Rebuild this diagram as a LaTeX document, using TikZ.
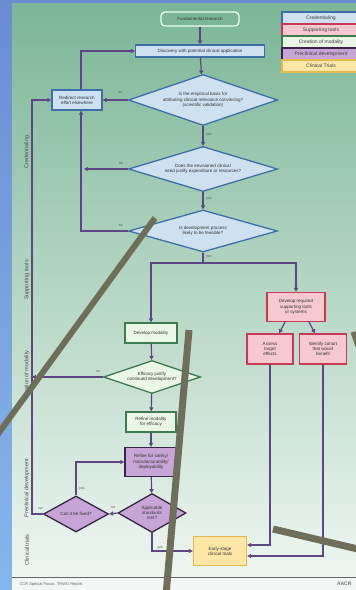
\documentclass[tikz,border=0pt]{standalone}
\usepackage{fontspec}
\setmainfont{Liberation Sans}
\usetikzlibrary{arrows.meta,shapes.geometric}

\definecolor{sidetop}{HTML}{6A8DD2}
\definecolor{sidebot}{HTML}{86B6EE}
\definecolor{bgtop}{HTML}{7CB697}
\definecolor{bgmid}{HTML}{A5D0BB}
\definecolor{bgbot}{HTML}{EEF6F1}
\definecolor{footfill}{HTML}{F3F6F5}
\definecolor{credfill}{HTML}{CFE0F1}
\definecolor{credline}{HTML}{3D6FA8}
\definecolor{toolfill}{HTML}{F6C8CF}
\definecolor{toolline}{HTML}{C63A58}
\definecolor{modfill}{HTML}{EAF6E6}
\definecolor{modline}{HTML}{3E7A52}
\definecolor{prefill}{HTML}{C7A5D6}
\definecolor{preline}{HTML}{3A2448}
\definecolor{trialfill}{HTML}{FDE6A6}
\definecolor{trialline}{HTML}{E6B850}
\definecolor{flowline}{HTML}{5E4684}
\definecolor{stickgray}{HTML}{6E6E5A}

\tikzset{
  box/.style={draw, line width=1.3pt, align=center, inner sep=1pt,
    font=\fontsize{4.5}{5.2}\selectfont, text=black!80},
  decision/.style={box, diamond, inner sep=0pt},
  credbox/.style={fill=credfill, draw=credline},
  toolbox/.style={fill=toolfill, draw=toolline},
  modbox/.style={fill=modfill, draw=modline},
  prebox/.style={fill=prefill, draw=preline},
  trialbox/.style={fill=trialfill, draw=trialline},
  keyrow/.style={draw, line width=1.3pt, minimum width=78, minimum height=12,
    inner sep=0pt, font=\fontsize{5}{6}\selectfont, text=black!75},
  lane/.style={rotate=90, font=\fontsize{5.5}{6}\selectfont, text=black!70},
  flow/.style={draw=flowline, line width=1.2pt, -{Triangle[length=4pt,width=4pt]}},
  link/.style={draw=flowline, line width=1.2pt},
  tag/.style={font=\fontsize{3.5}{4}\selectfont, text=black!70, inner sep=0.5pt},
  stick/.style={draw=stickgray, line cap=butt}
}

\begin{document}
\begin{tikzpicture}[x=1pt,y=-1pt]
\useasboundingbox (0,0) rectangle (356,590);
\shade[top color=sidetop, bottom color=sidebot] (0,0) rectangle (12,590);
\fill[sidetop] (12,0) rectangle (356,3);
\shade[top color=bgtop, middle color=bgmid, bottom color=bgbot] (12,3) rectangle (356,577);
\fill[footfill] (12,577) rectangle (356,590);
\draw[black!60, line width=0.8pt] (12,577.5) -- (356,577.5);
\node[anchor=west, font=\fontsize{4}{5}\selectfont, text=black!60] (foot) at (16,584) {CCR Special Focus: TRWG Report};
\node[anchor=east, font=\fontsize{5}{5}\selectfont\bfseries, text=black!55] (logo) at (355,584) {AACR};

\foreach \name/\y in {Credentialing/152, Supporting tools/280, Creation of modality/375,
  Preclinical development/488, Clinical trials/550}
  \node[lane] (lane\y) at (27,\y) {\name};

\foreach \name/\kind/\y in {Credentialing/credbox/18, Supporting tools/toolbox/30,
  Creation of modality/modbox/42, Preclinical development/prebox/54, Clinical Trials/trialbox/66}
  \node[keyrow, \kind] (key\y) at (321,\y) {\name};

\coordinate (backx) at (81,0);
\coordinate (leftx) at (32,0);
\coordinate (q2stop) at (84,169);

\node[box, fill=bgtop, draw=green!8!white, rounded corners=4pt, minimum width=78, minimum height=14] (fund) at (200,19) {Fundamental research};
\node[box, credbox, minimum width=129, minimum height=12] (disc) at (200,51) {Discovery with potential clinical application};
\node[decision, credbox, aspect=2.9, minimum width=149, minimum height=51] (q1) at (203,100) {Is the empirical basis for\\attributing clinical relevance convincing?\\(scientific validation)};
\node[box, credbox, minimum width=50, minimum height=20] (redir) at (77,100) {Redirect research\\effort elsewhere};
\node[decision, credbox, aspect=3.3, minimum width=149, minimum height=45] (q2) at (203,169) {Does the envisioned clinical\\need justify expenditure or resources?};
\node[decision, credbox, aspect=3.5, minimum width=149, minimum height=42] (q3) at (203,231) {Is development process\\likely to be feasible?};
\coordinate (split) at (203,263);

\node[box, toolbox, minimum width=58, minimum height=29] (devtools) at (296,307) {Develop required\\supporting tools\\or systems};
\node[box, toolbox, minimum width=46, minimum height=30] (assess) at (270,349) {Assess\\target\\effects};
\node[box, toolbox, minimum width=47, minimum height=30] (ident) at (323,349) {Identify cohort\\that would\\benefit};

\node[box, modbox, minimum width=52, minimum height=20] (devmod) at (151,333) {Develop modality};
\node[decision, modbox, aspect=2.9, minimum width=97, minimum height=33] (eff) at (152,377) {Efficacy justify\\continued development?};
\node[box, modbox, minimum width=50, minimum height=20] (refmod) at (151,422) {Refine modality\\for efficacy};
\node[box, prebox, minimum width=52, minimum height=29] (refsafe) at (151,462) {Refine for safety/\\manufacturability/\\deployability};
\node[decision, prebox, aspect=1.75, minimum width=68, minimum height=39] (appl) at (152,513) {Applicable\\standards\\met?};
\node[decision, prebox, aspect=1.8, minimum width=65, minimum height=36] (fix) at (76,514) {Can it be fixed?};
\node[box, trialbox, minimum width=53, minimum height=29] (early) at (220,551) {Early-stage\\clinical trials};

\draw[flow] (fund) -- (disc);
\draw[flow] (disc) -- (q1);
\draw[flow] (q1.west) -- node[tag, above=5pt, pos=0.3] {no} (redir.east);
\draw[flow] (redir.north -| backx) |- (disc.west);
\draw[flow] (q1) -- node[tag, right=2pt, pos=0.45] {yes} (q2);
\draw[flow] (q2.west) -- node[tag, above=3pt, pos=0.16] {no} (q2stop);
\draw[flow] (q2) -- node[tag, right=2pt, pos=0.4] {yes} (q3);
\draw[flow] (q3.west) -- node[tag, above=3pt, pos=0.15] {no} (q3.west -| backx) -- (redir.south -| backx);
\draw[link] (q3.south) -- node[tag, right=2pt, pos=0.4] {yes} (split);
\draw[flow] (split) -| (devmod);
\draw[flow] (split) -| (devtools);
\draw[flow] ([xshift=-11]devtools.south) -- ([xshift=9]assess.north);
\draw[flow] ([xshift=13]devtools.south) -- ([xshift=-8]ident.north);
\draw[flow] (assess.south) |- ([yshift=6]early.east);
\draw[flow] (ident.south) |- ([yshift=-5]early.east);
\draw[flow] (devmod) -- (eff);
\draw[flow] (eff.west) -- node[tag, above=3pt, pos=0.07] {no} (eff.west -| leftx);
\draw[flow] (eff) -- (refmod);
\draw[flow] (refmod) -- (refsafe);
\draw[flow] (refsafe) -- (appl);
\draw[flow] (appl.west) -- node[tag, above=4pt, pos=0.5] {no} (fix.east);
\draw[flow] (fix.north) |- node[tag, right=2pt, pos=0.1] {yes} (refsafe.west);
\draw[flow] (fix.west) -- node[tag, above=3pt, pos=0.2] {no} (fix.west -| leftx) |- (redir.west);
\draw[flow] (appl.south) |- node[tag, above=1pt, pos=0.6] {yes} (early.west);

\draw[stick, line width=6pt] (155,218) -- (-5,438);
\draw[stick, line width=7pt] (189,330) -- (166,595);
\draw[stick, line width=7pt] (273,529) -- (362,550);
\draw[stick, line width=5pt] (353,332) -- (360,352);
\end{tikzpicture}
\end{document}
